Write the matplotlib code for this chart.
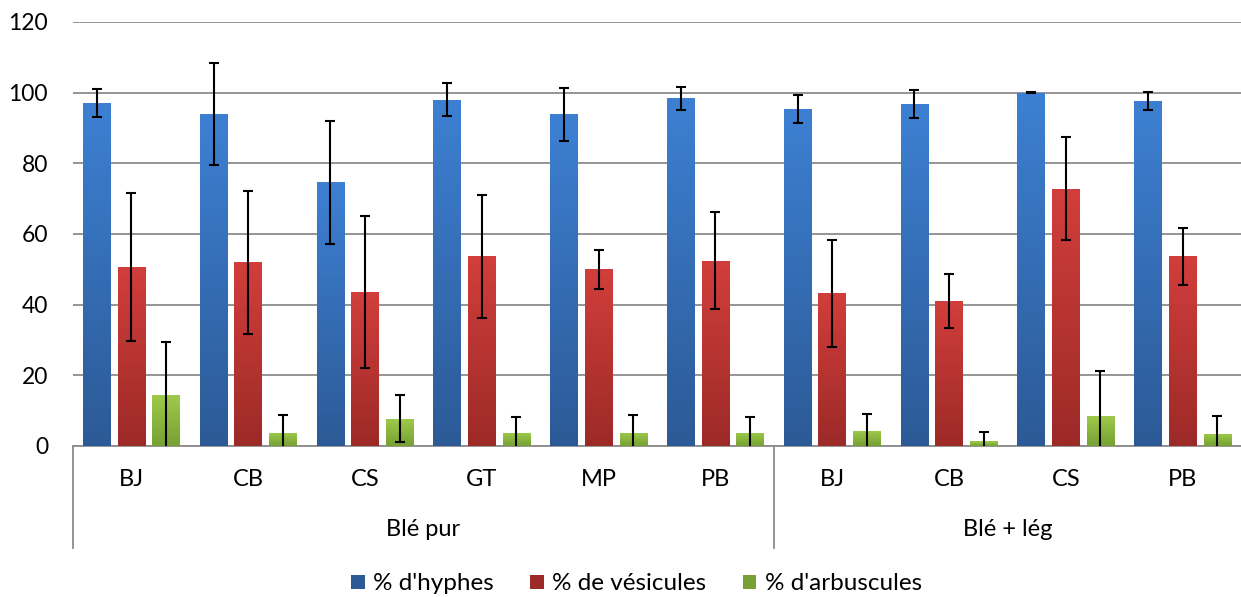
import numpy as np
import matplotlib
matplotlib.use("Agg")
import matplotlib.pyplot as plt
from matplotlib.colors import LinearSegmentedColormap

plt.rcParams['font.family'] = ['Lato', 'DejaVu Sans']

# Data
cultivars = ["BJ", "CB", "CS", "GT", "MP", "PB", "BJ", "CB", "CS", "PB"]
systems = ["Blé pur", "Blé + lég"]
system_sizes = [6, 4]
series = ["% d'hyphes", "% de vésicules", "% d'arbuscules"]

hyphes = [97.1, 93.9, 74.6, 98.0, 93.9, 98.4, 95.4, 96.7, 100.0, 97.7]
hyphes_err = [4.0, 14.4, 17.5, 4.6, 7.5, 3.2, 3.9, 4.0, 0.2, 2.6]
vesicules = [50.7, 52.0, 43.6, 53.7, 50.0, 52.4, 43.2, 41.1, 72.8, 53.7]
vesicules_err = [21.0, 20.2, 21.5, 17.4, 5.6, 13.7, 15.1, 7.7, 14.6, 8.0]
arbuscules = [14.3, 3.8, 7.7, 3.8, 3.8, 3.8, 4.3, 1.4, 8.5, 3.4]
arbuscules_err = [15.0, 5.1, 6.7, 4.5, 5.1, 4.5, 4.8, 2.7, 12.6, 5.2]

values = [hyphes, vesicules, arbuscules]
errors = [hyphes_err, vesicules_err, arbuscules_err]
# (top colour, bottom colour) for the gradient fill
colors = [("#3d80d3", "#2c5a96"), ("#d23e3b", "#9c2a27"), ("#9fcb4b", "#76a033")]

fig = plt.figure(figsize=(12.41, 5.97), dpi=100)
ax = fig.add_axes([73 / 1241, 1 - 446 / 597, 1 - 73 / 1241, 424 / 597])

x = np.arange(len(cultivars))
width = 0.235
step = 0.297

for i, (vals, errs, (ctop, cbot)) in enumerate(zip(values, errors, colors)):
    pos = x + (i - 1) * step
    bars = ax.bar(pos, vals, width, color=cbot, label=series[i], zorder=2)
    cmap = LinearSegmentedColormap.from_list("g%d" % i, [cbot, ctop])
    grad = np.linspace(0, 1, 256).reshape(-1, 1)
    for b in bars:
        im = ax.imshow(grad, cmap=cmap, origin="lower", aspect="auto",
                       extent=[b.get_x(), b.get_x() + b.get_width(), 0, b.get_height()],
                       zorder=3)
        im.set_clip_path(b)
    ax.errorbar(pos, vals, yerr=errs, fmt="none", ecolor="black", elinewidth=1.5,
                capsize=3.6, capthick=1.5, zorder=4)

ax.set_xlim(-0.5, len(cultivars) - 0.5)
ax.set_ylim(0, 120)
ax.set_yticks(range(0, 121, 20))
ax.yaxis.grid(True, color="#8c8c8c", linewidth=1.3, zorder=0)
ax.set_axisbelow(True)
for s in ["left", "right", "top"]:
    ax.spines[s].set_visible(False)
ax.spines["bottom"].set_color("#8c8c8c")
ax.spines["bottom"].set_linewidth(1.3)
ax.tick_params(axis="y", length=0, pad=18, labelsize=16.5)
ax.set_xticks([])

# Two-level category axis
trans = ax.get_xaxis_transform()
for xi, lab in zip(x, cultivars):
    ax.text(xi, -0.08, lab, transform=trans, ha="center", va="center", fontsize=17)
start = 0
bounds = [-0.5]
for name, n in zip(systems, system_sizes):
    mid = start + (n - 1) / 2
    ax.text(mid, -0.198, name, transform=trans, ha="center", va="center", fontsize=17)
    start += n
    bounds.append(start - 0.5)
for b in bounds[:-1]:
    ax.plot([b, b], [0, -0.24], transform=trans, color="#8c8c8c", lw=1.3, clip_on=False)

leg = fig.legend(loc="center", bbox_to_anchor=(0.513, 1 - 584 / 597), ncol=3, frameon=False,
                 fontsize=17.5, handlelength=0.55, handleheight=0.55, handletextpad=0.35,
                 columnspacing=1.5)

fig.savefig("out.png", dpi=100)
